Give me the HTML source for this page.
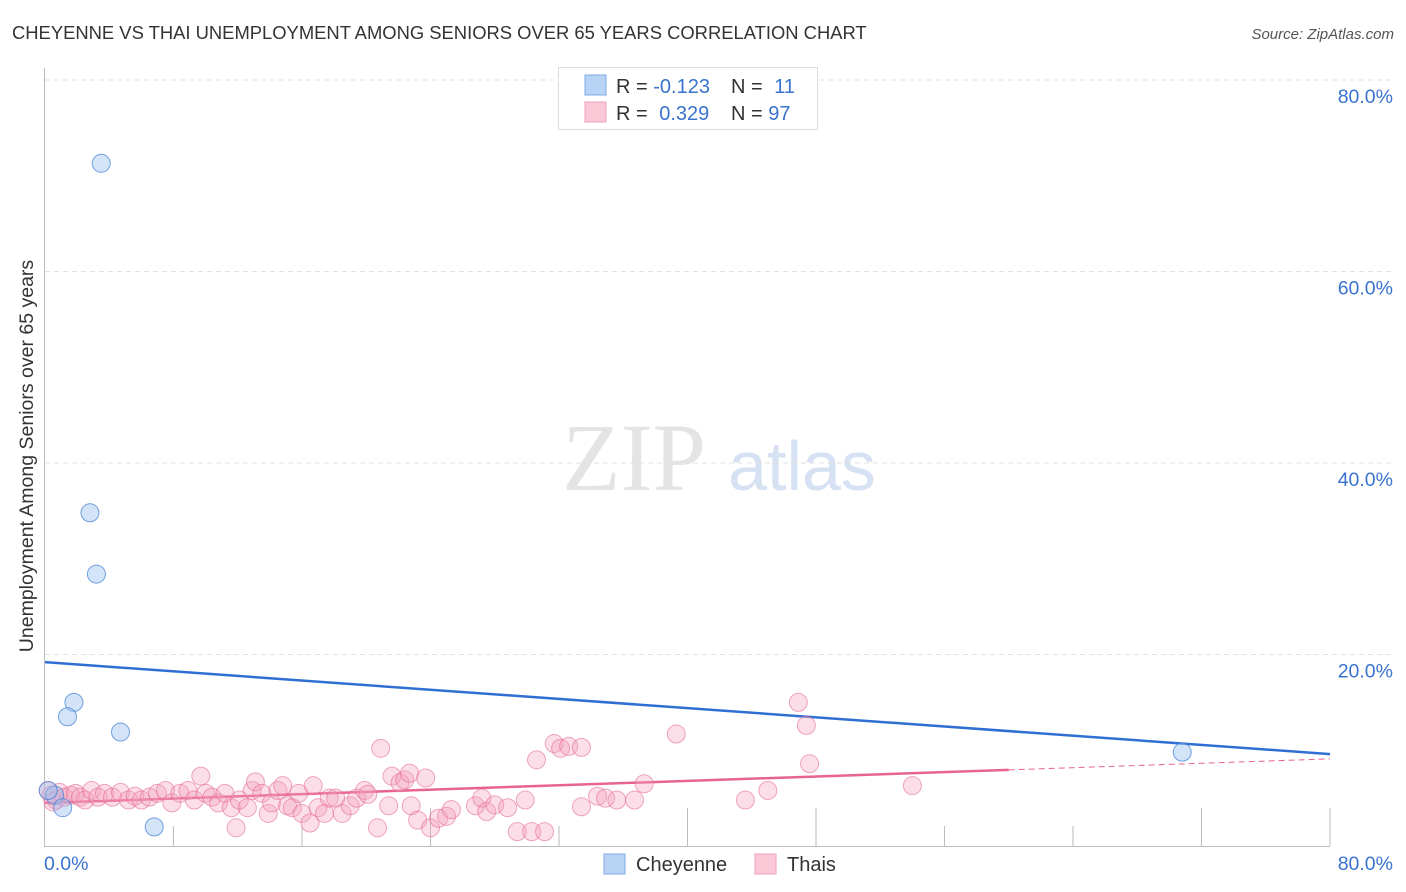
<!DOCTYPE html>
<html><head><meta charset="utf-8"><style>
body{margin:0;background:#fff;font-family:"Liberation Sans",sans-serif;}
svg{display:block}
</style></head><body>
<svg id="chart" width="1406" height="892">
<text x="12" y="39" font-size="18.4" fill="#333">CHEYENNE VS THAI UNEMPLOYMENT AMONG SENIORS OVER 65 YEARS CORRELATION CHART</text>
<text x="1394" y="39" font-size="15" fill="#555" font-style="italic" text-anchor="end">Source: ZipAtlas.com</text>
<text x="0" y="0" transform="translate(33,456) rotate(-90)" font-size="19.5" fill="#333" text-anchor="middle">Unemployment Among Seniors over 65 years</text>
<g>
<text x="634" y="490" font-family="Liberation Serif,serif" font-size="96" fill="#e4e4e4" text-anchor="middle">ZIP</text>
<text x="802" y="490" font-size="70" fill="#d6e2f3" text-anchor="middle">atlas</text>
</g>
<g id="grid"></g><g id="axes"></g><g id="trends"></g><g id="pts"></g>
<g>
<rect x="558.5" y="67.5" width="259" height="62" fill="#fff" stroke="#ddd"/>
<rect x="585" y="75" width="21" height="20" fill="#b9d3f5" stroke="#7fa9e4"/>
<rect x="585" y="102" width="21" height="20" fill="#fbc8d7" stroke="#efa0bb"/>
<text x="616" y="93" font-size="20" fill="#333">R = <tspan fill="#3a73cf">-0.123</tspan></text>
<text x="731" y="93" font-size="20" fill="#333">N = <tspan fill="#3a73cf" dx="6">11</tspan></text>
<text x="616" y="120" font-size="20" fill="#333">R = <tspan fill="#3a73cf" dx="6">0.329</tspan></text>
<text x="731" y="120" font-size="20" fill="#333">N = <tspan fill="#3a73cf">97</tspan></text>
</g>
<g>
<rect x="604" y="854" width="21" height="20" fill="#b9d3f5" stroke="#7fa9e4"/>
<text x="636" y="871" font-size="20" fill="#333">Cheyenne</text>
<rect x="755" y="854" width="21" height="20" fill="#fbc8d7" stroke="#efa0bb"/>
<text x="787" y="871" font-size="20" fill="#333">Thais</text>
</g>
</svg>
<script>
const yTicks=[20,40,60,80];
const xTickLabels=["0.0%","80.0%"];
const cheyX=[3.5,2.8,3.2,1.8,1.4,4.7,0.6,1.1,6.8,70.8,0.2];
const cheyY=[71.3,34.8,28.4,15.0,13.5,11.9,5.3,4.0,2.0,9.8,5.8];
const thaiX=[0.2,0.4,0.7,0.9,1.2,1.6,1.9,2.2,2.5,2.9,3.3,3.7,4.2,4.7,5.2,5.6,6.0,6.5,7.0,7.5,7.9,8.4,8.9,9.3,9.7,10.0,10.4,10.8,11.2,11.6,11.9,12.1,12.6,12.9,13.1,13.5,13.9,14.1,14.5,14.8,15.1,15.4,15.8,16.0,16.5,16.7,17.0,17.4,17.7,18.1,18.5,19.0,19.4,19.9,20.1,20.7,20.9,21.4,21.6,22.1,22.4,22.7,22.8,23.2,23.7,24.0,24.5,25.0,25.3,26.8,27.2,27.5,28.0,28.8,29.4,29.9,30.3,30.6,31.1,31.7,32.1,32.6,33.4,33.4,34.4,34.9,35.6,36.7,37.3,39.3,43.6,45.0,46.9,47.4,47.6,54.0,0.5];
const thaiY=[5.8,5.3,4.8,5.6,5.1,5.3,5.5,5.1,4.8,5.8,5.1,5.5,5.1,5.6,4.8,5.2,4.8,5.1,5.5,5.8,4.5,5.5,5.8,4.8,7.3,5.5,5.1,4.5,5.5,4.0,1.9,4.8,4.0,5.8,6.7,5.5,3.4,4.5,5.8,6.3,4.2,4.0,5.5,3.4,2.4,6.3,4.0,3.4,5.0,5.0,3.4,4.2,5.0,5.8,5.4,1.9,10.2,4.2,7.3,6.6,6.9,7.6,4.2,2.7,7.1,1.9,2.9,3.1,3.8,4.2,5.0,3.6,4.3,4.0,1.5,4.8,1.5,9.0,1.5,10.7,10.2,10.4,10.3,4.1,5.2,5.0,4.8,4.8,6.5,11.7,4.8,5.8,15.0,12.6,8.6,6.3,4.6];
const cheyTrend=[19.2,9.6];
const thaiTrend=[4.5,9.1];
const thaiSolidEnd=60;
const NS="http://www.w3.org/2000/svg";
const X=v=>45+v/80*1285, Y=v=>846-v/20*191.5;
function mk(t,a,p){const e=document.createElementNS(NS,t);for(const k in a)e.setAttribute(k,a[k]);p.appendChild(e);return e;}
const grid=document.getElementById('grid'),axes=document.getElementById('axes'),tr=document.getElementById('trends'),pts=document.getElementById('pts');
yTicks.forEach(v=>{
 const l=mk('line',{x1:45,x2:1394,y1:Y(v),y2:Y(v),stroke:'#e2e2e2','stroke-dasharray':'5,4'},grid);
 
 
 const t=mk('text',{x:1393,y:Y(v)+23,'font-size':19.5,fill:'#3a73cf','text-anchor':'end'},grid);
 t.textContent=v.toFixed(1)+'%';
 
 
});
mk('line',{x1:44.5,x2:44.5,y1:68,y2:846,stroke:'#bbb'},axes);
mk('line',{x1:44,x2:1330,y1:846.5,y2:846.5,stroke:'#bbb'},axes);
const tall=[3,5,6,9,10];
for(let i=1;i<=10;i++){const x=X(i*8);mk('line',{x1:x,x2:x,y1:(tall.includes(i)?808:826),y2:846,stroke:'#bbb'},axes);}
const xl0=mk('text',{x:44,y:870,'font-size':19.5,fill:'#3a73cf'},axes);xl0.textContent=xTickLabels[0];


const xl1=mk('text',{x:1393,y:870,'font-size':19.5,fill:'#3a73cf','text-anchor':'end'},axes);xl1.textContent=xTickLabels[1];


thaiX.forEach((x,i)=>{const c=mk('circle',{cx:X(x),cy:Y(thaiY[i]),r:9,fill:'rgba(244,160,190,0.35)',stroke:'rgba(228,110,150,0.6)','stroke-width':1},pts);
 
 });
cheyX.forEach((x,i)=>{const c=mk('circle',{cx:X(x),cy:Y(cheyY[i]),r:9,fill:'rgba(160,195,240,0.45)',stroke:'rgba(70,130,215,0.75)','stroke-width':1},pts);
 
 });
const b=mk('line',{x1:X(0),y1:Y(cheyTrend[0]),x2:X(80),y2:Y(cheyTrend[1]),stroke:'#2f6fd4','stroke-width':2.5},tr);


const ty=x=>thaiTrend[0]+(thaiTrend[1]-thaiTrend[0])*x/80;
const p1=mk('line',{x1:X(0),y1:Y(ty(0)),x2:X(thaiSolidEnd),y2:Y(ty(thaiSolidEnd)),stroke:'#e8648f','stroke-width':2.5},tr);


const p2=mk('line',{x1:X(thaiSolidEnd),y1:Y(ty(thaiSolidEnd)),x2:X(80),y2:Y(ty(80)),stroke:'#e8648f','stroke-width':1,'stroke-dasharray':'6,4'},tr);


</script>
</body></html>
